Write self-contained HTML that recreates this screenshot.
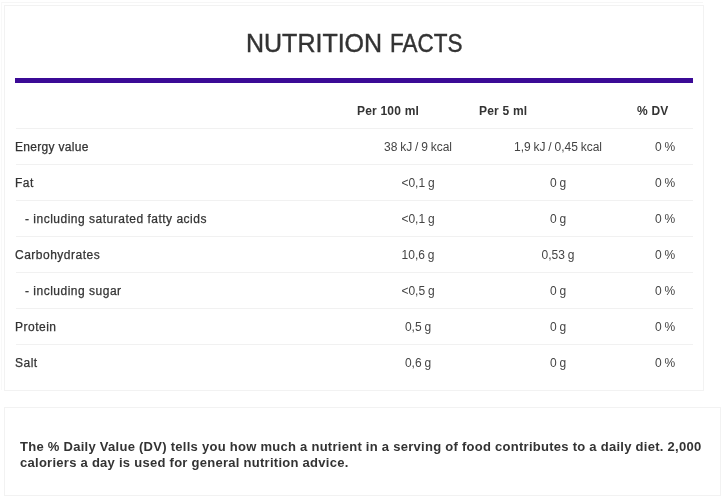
<!DOCTYPE html>
<html>
<head>
<meta charset="utf-8">
<style>
html,body{margin:0;padding:0;background:#fff;width:725px;height:500px;overflow:hidden;position:relative;}
body{font-family:"Liberation Sans",sans-serif;color:#333;}
.gs{position:absolute;left:0;top:0;width:725px;height:500px;will-change:transform;}
.box1{position:absolute;left:4px;top:5px;width:700px;height:386px;box-sizing:border-box;border:1px solid #f2f2f2;}
.title{position:absolute;top:28px;font-size:25px;line-height:30px;color:#333;white-space:nowrap;-webkit-text-stroke:0.4px #333;}
.bar{position:absolute;left:15px;top:78px;width:678px;height:5px;background:#3b0a96;}
.t{position:absolute;white-space:nowrap;font-size:12px;line-height:14px;}
.th{font-weight:bold;color:#333;letter-spacing:0.2px;}
.lab{color:#333;letter-spacing:0.5px;-webkit-text-stroke:0.25px #333;}
.val{color:#444;text-align:center;word-spacing:-0.5px;}
.rule{position:absolute;left:16px;width:677px;height:1px;background:#f1f1f1;}
.box2{position:absolute;left:4px;top:407px;width:717px;height:89px;box-sizing:border-box;border:1px solid #f2f2f2;}
.disc{position:absolute;left:20px;top:439px;letter-spacing:0.27px;font-size:13px;line-height:16px;font-weight:bold;color:#333;white-space:nowrap;}
</style>
</head>
<body>
<div class="gs">
<div class="box1"></div>
<div style="position:absolute;left:1px;top:2px;width:702px;height:1px;background:#f6f6f6;"></div>
<div style="position:absolute;left:1px;top:2px;width:1px;height:388px;background:#f8f8f8;"></div>
<div class="title" style="left:246px;">NUTRITION</div>
<div class="title" style="left:390px;letter-spacing:0px;transform:scaleX(0.9);transform-origin:0 0;">FACTS</div>
<div class="bar"></div>

<div class="t th" style="left:357px;top:104px;">Per 100 ml</div>
<div class="t th" style="left:479px;top:104px;">Per 5 ml</div>
<div class="t th" style="left:637px;top:104px;">% DV</div>

<div class="rule" style="top:128px"></div>
<div class="rule" style="top:164px"></div>
<div class="rule" style="top:200px"></div>
<div class="rule" style="top:236px"></div>
<div class="rule" style="top:272px"></div>
<div class="rule" style="top:308px"></div>
<div class="rule" style="top:344px"></div>

<div class="t lab" style="left:15px;top:140px;letter-spacing:0.3px;">Energy value</div>
<div class="t val" style="left:357px;width:122px;top:140px;">38 kJ / 9 kcal</div>
<div class="t val" style="left:479px;width:158px;top:140px;">1,9 kJ / 0,45 kcal</div>
<div class="t val" style="left:637px;width:56px;top:140px;">0 %</div>

<div class="t lab" style="left:15px;top:176px;">Fat</div>
<div class="t val" style="left:357px;width:122px;top:176px;">&lt;0,1 g</div>
<div class="t val" style="left:479px;width:158px;top:176px;">0 g</div>
<div class="t val" style="left:637px;width:56px;top:176px;">0 %</div>

<div class="t lab" style="left:25px;top:212px;">- including saturated fatty acids</div>
<div class="t val" style="left:357px;width:122px;top:212px;">&lt;0,1 g</div>
<div class="t val" style="left:479px;width:158px;top:212px;">0 g</div>
<div class="t val" style="left:637px;width:56px;top:212px;">0 %</div>

<div class="t lab" style="left:15px;top:248px;">Carbohydrates</div>
<div class="t val" style="left:357px;width:122px;top:248px;">10,6 g</div>
<div class="t val" style="left:479px;width:158px;top:248px;">0,53 g</div>
<div class="t val" style="left:637px;width:56px;top:248px;">0 %</div>

<div class="t lab" style="left:25px;top:284px;">- including sugar</div>
<div class="t val" style="left:357px;width:122px;top:284px;">&lt;0,5 g</div>
<div class="t val" style="left:479px;width:158px;top:284px;">0 g</div>
<div class="t val" style="left:637px;width:56px;top:284px;">0 %</div>

<div class="t lab" style="left:15px;top:320px;">Protein</div>
<div class="t val" style="left:357px;width:122px;top:320px;">0,5 g</div>
<div class="t val" style="left:479px;width:158px;top:320px;">0 g</div>
<div class="t val" style="left:637px;width:56px;top:320px;">0 %</div>

<div class="t lab" style="left:15px;top:356px;">Salt</div>
<div class="t val" style="left:357px;width:122px;top:356px;">0,6 g</div>
<div class="t val" style="left:479px;width:158px;top:356px;">0 g</div>
<div class="t val" style="left:637px;width:56px;top:356px;">0 %</div>

<div class="box2"></div>
<div class="disc">The % Daily Value (DV) tells you how much a nutrient in a serving of food contributes to a daily diet. 2,000<br>caloriers a day is used for general nutrition advice.</div>
</div>
</body>
</html>
